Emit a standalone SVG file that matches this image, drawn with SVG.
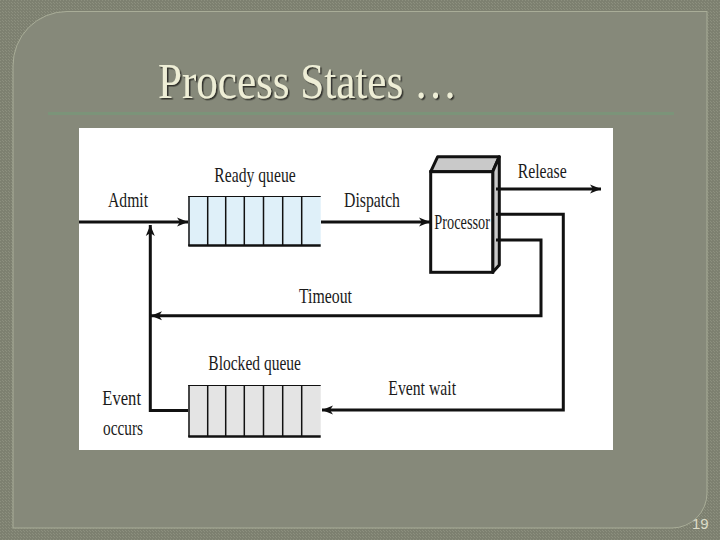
<svg xmlns="http://www.w3.org/2000/svg" width="720" height="540" viewBox="0 0 720 540">
<defs>
<style>
.lbl{font-family:"Liberation Serif","Times New Roman",serif;font-size:21px;fill:#1a1a1a;}
.wire{fill:none;stroke:#111;stroke-width:3;}
.cell{stroke:#111;stroke-width:1.5;}
.qtop{stroke:#111;stroke-width:1.2;}
.qbot{stroke:#111;stroke-width:2.6;}
</style>
<pattern id="dither" width="3" height="3" patternUnits="userSpaceOnUse">
<rect width="3" height="3" fill="#7d8070"/>
<rect width="1" height="1" fill="#8c8f7e"/>
<rect x="2" y="2" width="1" height="1" fill="#8c8f7e"/>
</pattern>
<marker id="arr" markerWidth="12" markerHeight="10" refX="11" refY="5" orient="auto" markerUnits="userSpaceOnUse">
<path d="M0,0.5 L11,5 L0,9.5 L3,5 Z" fill="#111"/>
</marker>
<filter id="shadow" x="-5%" y="-20%" width="115%" height="150%">
<feDropShadow dx="1.5" dy="1.5" stdDeviation="0.6" flood-color="#2a2c22" flood-opacity="0.9"/>
</filter>
</defs>

<g id="background">
<rect width="720" height="540" fill="url(#dither)"/>
<path d="M13,528 V66 A54,54 0 0 1 67,11.5 H707 V493 A35,35 0 0 1 672,528 Z" fill="#86897a" stroke="#a9ad98" stroke-width="1"/>
<rect x="48" y="112" width="626" height="3" fill="#7b9479"/>
</g>

<g id="title">
<text x="158" y="98" font-family="'Liberation Serif','Times New Roman',serif" font-size="50" fill="#eeeed6" textLength="299" lengthAdjust="spacingAndGlyphs" filter="url(#shadow)">Process States …</text>
</g>

<g id="page-number">
<text x="692" y="529" font-family="'Liberation Sans',Arial,sans-serif" font-size="15" fill="#dcdcc8">19</text>
</g>

<g id="diagram-panel">
<rect x="79" y="128" width="534" height="322" fill="#ffffff"/>
</g>

<g id="ready-queue">
<rect x="188.3" y="196" width="132.4" height="49.7" fill="#dff0f9"/>
<line class="qtop" x1="188.3" y1="196.5" x2="320.7" y2="196.5"/>
<line class="qbot" x1="188.3" y1="245.5" x2="320.7" y2="245.5"/>
<line class="cell" x1="189" y1="196" x2="189" y2="246"/>
<line class="cell" x1="207.7" y1="196" x2="207.7" y2="246"/>
<line class="cell" x1="225.7" y1="196" x2="225.7" y2="246"/>
<line class="cell" x1="244.3" y1="196" x2="244.3" y2="246"/>
<line class="cell" x1="263.5" y1="196" x2="263.5" y2="246"/>
<line class="cell" x1="282.7" y1="196" x2="282.7" y2="246"/>
<line class="cell" x1="301.7" y1="196" x2="301.7" y2="246"/>
<text class="lbl" x="214.3" y="182" textLength="81.4" lengthAdjust="spacingAndGlyphs">Ready queue</text>
</g>

<g id="blocked-queue">
<rect x="188.3" y="385" width="132.4" height="51.7" fill="#e4e4e4"/>
<line class="qtop" x1="188.3" y1="385.5" x2="320.7" y2="385.5"/>
<line class="qbot" x1="188.3" y1="436.5" x2="320.7" y2="436.5"/>
<line class="cell" x1="189" y1="385" x2="189" y2="437"/>
<line class="cell" x1="207.7" y1="385" x2="207.7" y2="437"/>
<line class="cell" x1="225.7" y1="385" x2="225.7" y2="437"/>
<line class="cell" x1="244.3" y1="385" x2="244.3" y2="437"/>
<line class="cell" x1="263.5" y1="385" x2="263.5" y2="437"/>
<line class="cell" x1="282.7" y1="385" x2="282.7" y2="437"/>
<line class="cell" x1="301.7" y1="385" x2="301.7" y2="437"/>
<text class="lbl" x="208.3" y="370" textLength="92.7" lengthAdjust="spacingAndGlyphs">Blocked queue</text>
</g>

<g id="processor">
<polygon points="430.7,171.7 437.7,156.7 499.3,156.7 492.7,171.7" fill="#c9c9c9" stroke="#111" stroke-width="3" stroke-linejoin="round"/>
<polygon points="492.7,171.7 499.3,156.7 499.3,265 492.7,272.3" fill="#c9c9c9" stroke="#111" stroke-width="3" stroke-linejoin="round"/>
<rect x="430.7" y="171.7" width="62" height="100.6" fill="#ffffff" stroke="#111" stroke-width="3"/>
<text class="lbl" x="434.3" y="229" textLength="55.7" lengthAdjust="spacingAndGlyphs">Processor</text>
</g>

<g id="connectors">
<path class="wire" d="M79,222 H188" marker-end="url(#arr)"/>
<path class="wire" d="M321,222 H430" marker-end="url(#arr)"/>
<path class="wire" d="M496,189 H601" marker-end="url(#arr)"/>
<path class="wire" d="M496,214.3 H563.3 V410 H322" marker-end="url(#arr)"/>
<path class="wire" d="M496,240 H541 V315.7 H151" marker-end="url(#arr)"/>
<path class="wire" d="M188,410.5 H150.3 V225" marker-end="url(#arr)"/>
<text class="lbl" x="108" y="207" textLength="40" lengthAdjust="spacingAndGlyphs">Admit</text>
<text class="lbl" x="344" y="207" textLength="56" lengthAdjust="spacingAndGlyphs">Dispatch</text>
<text class="lbl" x="517.7" y="178" textLength="49" lengthAdjust="spacingAndGlyphs">Release</text>
<text class="lbl" x="299" y="303" textLength="53" lengthAdjust="spacingAndGlyphs">Timeout</text>
<text class="lbl" x="388.3" y="395" textLength="67.7" lengthAdjust="spacingAndGlyphs">Event wait</text>
<text class="lbl" x="102.3" y="405" textLength="38.7" lengthAdjust="spacingAndGlyphs">Event</text>
<text class="lbl" x="103" y="435" textLength="40" lengthAdjust="spacingAndGlyphs">occurs</text>
</g>
</svg>
